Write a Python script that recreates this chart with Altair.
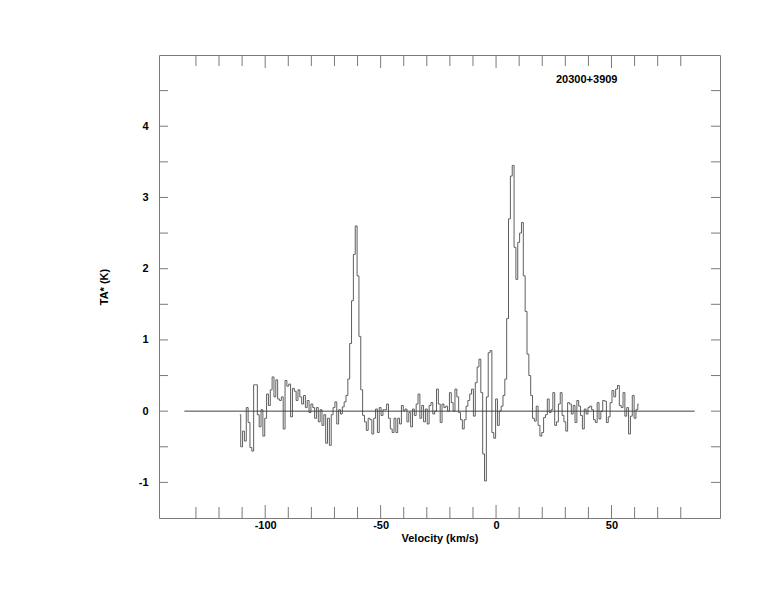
import altair as alt
import pandas as pd

# ---- data -------------------------------------------------------------
V_START = -111.0          # km/s, first channel
V_STEP = 0.8              # km/s, channel width
ta_star = [
    # -111.0 .. -103.8
    -0.05, -0.50, -0.28, -0.42, 0.05, -0.16, -0.51, -0.56, 0.37, 0.37,
    # -103.0 .. -95.8
    -0.05, -0.22, 0.02, -0.35, -0.10, 0.24, 0.08, 0.30, 0.48, 0.20,
    # -95.0 .. -87.8
    0.44, 0.17, 0.15, 0.20, -0.25, 0.43, 0.35, 0.38, -0.08, 0.32,
    # -87.0 .. -79.8
    0.28, 0.15, 0.30, 0.20, 0.10, 0.22, 0.05, 0.15, -0.02, 0.10,
    # -79.0 .. -71.8
    0.05, -0.10, 0.05, -0.15, 0.02, -0.20, -0.05, -0.45, -0.10, -0.48,
    # -71.0 .. -63.8
    -0.05, 0.05, 0.13, -0.18, 0.02, -0.04, 0.06, 0.13, 0.22, 0.45,
    # -63.0 .. -55.8
    0.95, 1.55, 2.20, 2.60, 1.90, 1.05, 0.30, -0.06, -0.15, -0.27,
    # -55.0 .. -47.8
    -0.10, -0.12, -0.32, -0.10, 0.03, -0.30, 0.05, -0.06, 0.02, 0.02,
    # -47.0 .. -39.8
    0.10, -0.10, -0.25, -0.30, -0.10, -0.30, -0.10, -0.18, 0.08, 0.01,
    # -39.0 .. -31.8
    0.03, -0.15, -0.02, -0.22, 0.03, -0.06, 0.10, 0.24, -0.10, 0.08,
    # -31.0 .. -23.8
    -0.15, 0.03, -0.18, 0.08, 0.12, -0.04, 0.00, 0.31, 0.10, -0.16,
    # -23.0 .. -15.8
    0.10, 0.05, 0.07, 0.00, 0.26, 0.12, 0.00, 0.31, 0.20, -0.02,
    # -15.0 .. -7.8
    -0.12, -0.25, -0.12, 0.07, 0.15, 0.24, 0.31, -0.07, 0.40, 0.62,
    # -7.0 .. 0.2
    0.73, 0.26, -0.60, -0.98, 0.20, 0.82, 0.85, -0.30, -0.38, 0.17,
    # 1.0 .. 8.2
    -0.20, 0.00, 0.07, 0.22, 0.45, 1.30, 2.70, 3.30, 3.45, 2.30,
    # 9.0 .. 16.2
    1.85, 2.37, 2.50, 2.65, 1.90, 1.40, 0.80, 0.50, 0.22, -0.10,
    # 17.0 .. 24.2
    -0.14, 0.07, -0.20, -0.35, -0.30, -0.09, -0.05, 0.17, -0.02, 0.02,
    # 25.0 .. 32.2
    0.26, -0.20, -0.15, 0.10, 0.26, -0.06, -0.15, -0.28, 0.12, 0.10,
    # 33.0 .. 40.2
    -0.04, 0.08, -0.16, 0.15, 0.07, -0.06, -0.25, 0.03, -0.04, 0.05,
    # 41.0 .. 48.2
    0.07, 0.02, -0.12, -0.16, 0.12, -0.11, 0.00, 0.15, 0.14, -0.16,
    # 49.0 .. 56.2
    -0.08, 0.12, 0.29, 0.20, 0.31, 0.36, 0.08, 0.05, 0.26, -0.07,
    # 57.0 .. 61.8
    0.05, -0.32, -0.07, 0.22, -0.10, 0.02, 0.10,
]
velocity = [round(V_START + V_STEP * i, 2) for i in range(len(ta_star))]

baseline_from = [-135.0]
baseline_to = [86.0]
baseline_level = [0.0]

x_minor_ticks = [-130, -120, -110, -90, -80, -70, -60, -40, -30, -20, -10,
                 10, 20, 30, 40, 60, 70, 80]
x_major_ticks = [-100, -50, 0, 50]
y_ticks = [-1, -0.5, 0, 0.5, 1, 1.5, 2, 2.5, 3, 3.5, 4, 4.5]
y_labels = [-1, 0, 1, 2, 3, 4]

title_text = "20300+3909"
x_title = "Velocity (km/s)"
y_title = "TA* (K)"

# ---- layout / style ---------------------------------------------------
W, H = 561, 463
X_DOMAIN = [-146, 97]
Y_DOMAIN = [-1.5, 5]
FRAME = "#7a7a7a"
FONT = "Liberation Sans"

xs = alt.Scale(domain=X_DOMAIN, nice=False, zero=False)
ys = alt.Scale(domain=Y_DOMAIN, nice=False, zero=False)
x_axis = alt.Axis(values=x_major_ticks, ticks=False, domain=False, grid=False,
                  labelPadding=1, title=x_title, titlePadding=2,
                  labelExpr="'' + datum.value")
y_axis = alt.Axis(values=y_labels, ticks=False, domain=False, grid=False,
                  labelPadding=11, title=y_title, titleX=-50, titleY=H / 2,
                  labelExpr="'' + datum.value")

spec_df = pd.DataFrame({"v": velocity, "t": ta_star})
base_df = pd.DataFrame({"v": baseline_from, "v2": baseline_to, "t": baseline_level})
xmin_df = pd.DataFrame({"v": x_minor_ticks})
xmaj_df = pd.DataFrame({"v": x_major_ticks})
yt_df = pd.DataFrame({"t": y_ticks})

X = lambda: alt.X("v:Q", scale=xs, axis=x_axis)
Y = lambda: alt.Y("t:Q", scale=ys, axis=y_axis)

line = alt.Chart(spec_df).mark_line(
    interpolate="step", color="#5e5e5e", strokeWidth=1
).encode(x=X(), y=Y())

baseline = alt.Chart(base_df).mark_rule(color="#404040", strokeWidth=1).encode(
    x=X(), x2="v2:Q", y=Y())

def xticks(df, length):
    top = alt.Chart(df).mark_rule(color=FRAME, strokeWidth=1).encode(
        x=X(), y=alt.value(0), y2=alt.value(length))
    bot = alt.Chart(df).mark_rule(color=FRAME, strokeWidth=1).encode(
        x=X(), y=alt.value(H), y2=alt.value(H - length))
    return [top, bot]

yl = alt.Chart(yt_df).mark_rule(color=FRAME, strokeWidth=1).encode(
    y=Y(), x=alt.value(0), x2=alt.value(9))
yr = alt.Chart(yt_df).mark_rule(color=FRAME, strokeWidth=1).encode(
    y=Y(), x=alt.value(W), x2=alt.value(W - 9))

chart = alt.layer(
    line, baseline, *xticks(xmin_df, 11), *xticks(xmaj_df, 13), yl, yr
).properties(
    width=W, height=H,
    title=alt.TitleParams(title_text, anchor="start", frame="group", dx=397,
                          dy=30, offset=0, font=FONT, fontSize=11,
                          fontWeight="bold", color="black"),
    autosize=alt.AutoSizeParams(type="none"),
    padding={"left": 151, "top": 47, "right": 46, "bottom": 86},
).configure_view(
    stroke=FRAME, strokeWidth=1
).configure_axis(
    labelFont=FONT, labelFontSize=11, labelFontWeight="bold", labelColor="black",
    titleFont=FONT, titleFontSize=11, titleFontWeight="bold", titleColor="black",
)

chart.save("out.html", embed_options={"renderer": "svg", "actions": False})
